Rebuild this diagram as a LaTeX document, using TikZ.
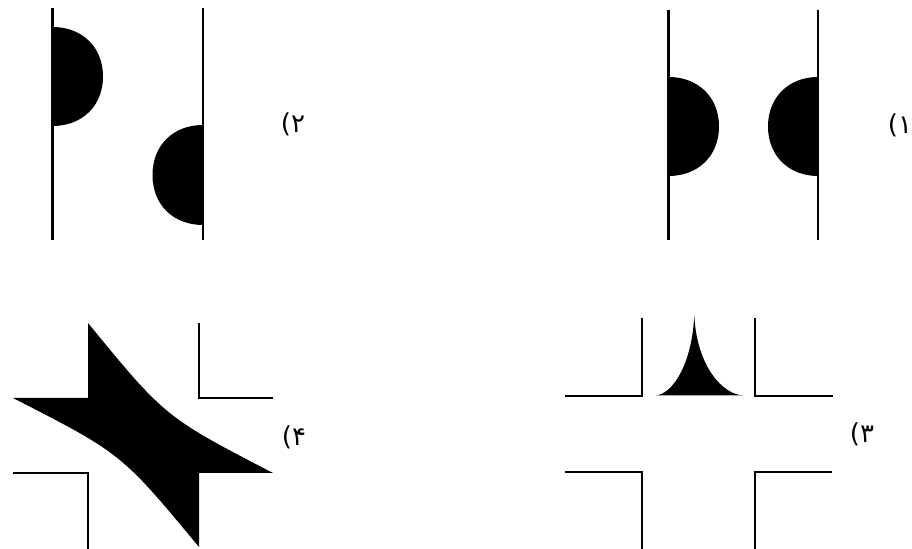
\documentclass[tikz,border=0pt]{standalone}
\usepackage{fontspec}
\newfontfamily\fafont{DejaVu Sans}
\begin{document}
\begin{tikzpicture}[x=0.5pt,y=-0.5pt,
  wall/.style={line width=1.15pt,line cap=butt,line join=miter},
  blob/.style={fill=black},
  lbl/.style={font=\fafont\fontsize{13}{15}\selectfont,inner sep=0pt}]
\useasboundingbox (0,0) rectangle (912,549);
% panel 2
\draw[wall] (52.5,8) -- (52.5,240);
\draw[wall] (203,8) -- (203,240);
\fill[blob] (52.5,27) .. controls (82,27) and (103,47) .. (103,76.5)
  .. controls (103,106) and (82,126) .. (52.5,126) -- cycle;
\fill[blob] (203,125) .. controls (173.5,125) and (152.5,145) .. (152.5,175)
  .. controls (152.5,205) and (173.5,225) .. (203,225) -- cycle;
\node[lbl] (l2) at (293,124) {(۲};
% panel 1
\draw[wall] (668.5,10) -- (668.5,240);
\draw[wall] (818,10) -- (818,240);
\fill[blob] (668.5,77) .. controls (698,77) and (719,97) .. (719,126.5)
  .. controls (719,156) and (698,176) .. (668.5,176) -- cycle;
\fill[blob] (818,77) .. controls (789,77) and (768,97) .. (768,126.5)
  .. controls (768,156) and (789,176) .. (818,176) -- cycle;
\node[lbl] (l1) at (900,125) {(۱};
% panel 4
\draw[wall] (199,323) -- (199,398) -- (273,398);
\draw[wall] (13,473) -- (88,473) -- (88,549);
\fill[blob] (88,323) -- (88,398) -- (13,398) .. controls (121.5,453.5) .. (199,547)
  -- (199,473) -- (273,473) .. controls (165,417) .. (88,323) -- cycle;
\node[lbl] (l4) at (294,437) {(۴};
% panel 3
\draw[wall] (642,318) -- (642,396) -- (565,396);
\draw[wall] (755,318) -- (755,396) -- (833,396);
\draw[wall] (565,472) -- (642,472) -- (642,549);
\draw[wall] (832,472) -- (755,472) -- (755,549);
\fill[blob] (655,395.5) .. controls (672,395) and (692,365) .. (694.3,315)
  .. controls (696.5,365) and (722,395) .. (744,395.5) -- cycle;
\node[lbl] (l3) at (862,434) {(۳};
\end{tikzpicture}
\end{document}
